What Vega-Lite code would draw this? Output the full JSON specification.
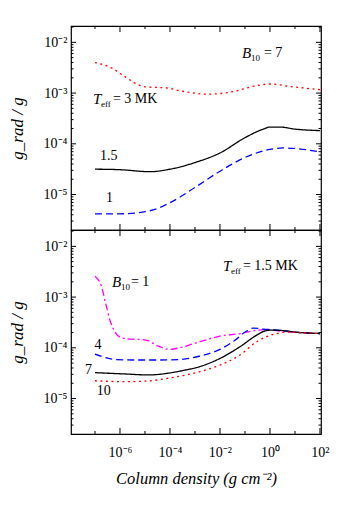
{
  "$schema": "https://vega.github.io/schema/vega-lite/v6.json",
  "padding": {"left": 7, "top": 25, "right": 10, "bottom": 5},
  "background": "white",
  "config": {
    "font": "Liberation Serif",
    "view": {"stroke": "black", "strokeWidth": 1.2},
    "axis": {"domain": false, "grid": false, "ticks": false, "labelColor": "black", "titleColor": "black", "labelOverlap": false,
      "labelFont": "Liberation Serif", "titleFont": "Liberation Serif"},
    "text": {"font": "Liberation Serif", "color": "black"},
    "tick": {"color": "black", "opacity": 1}
  },
  "spacing": 0,
  "bounds": "flush",
  "resolve": {"scale": {"color": "independent", "strokeDash": "independent"}},
  "datasets": {
    "xMajor": [
      {"x": 1e-6, "y": 2.0e-6}, {"x": 1e-4, "y": 2.0e-6}, {"x": 1e-2, "y": 2.0e-6}, {"x": 1, "y": 2.0e-6}, {"x": 100, "y": 2.0e-6},
      {"x": 1e-6, "y": 2.1e-2}, {"x": 1e-4, "y": 2.1e-2}, {"x": 1e-2, "y": 2.1e-2}, {"x": 1, "y": 2.1e-2}, {"x": 100, "y": 2.1e-2}
    ],
    "xMinor": [
      {"x": 1e-7, "y": 2.0e-6}, {"x": 1e-5, "y": 2.0e-6}, {"x": 1e-3, "y": 2.0e-6}, {"x": 0.1, "y": 2.0e-6}, {"x": 10, "y": 2.0e-6},
      {"x": 1e-7, "y": 2.1e-2}, {"x": 1e-5, "y": 2.1e-2}, {"x": 1e-3, "y": 2.1e-2}, {"x": 0.1, "y": 2.1e-2}, {"x": 10, "y": 2.1e-2}
    ],
    "yMajor": [
      {"x": 1.1e-8, "y": 1e-5}, {"x": 1.1e-8, "y": 1e-4}, {"x": 1.1e-8, "y": 1e-3}, {"x": 1.1e-8, "y": 1e-2},
      {"x": 110, "y": 1e-5}, {"x": 110, "y": 1e-4}, {"x": 110, "y": 1e-3}, {"x": 110, "y": 1e-2}
    ],
    "yMinor": [
      {"x": 1.1e-8, "y": 3e-6}, {"x": 1.1e-8, "y": 4e-6}, {"x": 1.1e-8, "y": 5e-6}, {"x": 1.1e-8, "y": 6e-6}, {"x": 1.1e-8, "y": 7e-6}, {"x": 1.1e-8, "y": 8e-6}, {"x": 1.1e-8, "y": 9e-6},
      {"x": 1.1e-8, "y": 2e-5}, {"x": 1.1e-8, "y": 3e-5}, {"x": 1.1e-8, "y": 4e-5}, {"x": 1.1e-8, "y": 5e-5}, {"x": 1.1e-8, "y": 6e-5}, {"x": 1.1e-8, "y": 7e-5}, {"x": 1.1e-8, "y": 8e-5}, {"x": 1.1e-8, "y": 9e-5},
      {"x": 1.1e-8, "y": 2e-4}, {"x": 1.1e-8, "y": 3e-4}, {"x": 1.1e-8, "y": 4e-4}, {"x": 1.1e-8, "y": 5e-4}, {"x": 1.1e-8, "y": 6e-4}, {"x": 1.1e-8, "y": 7e-4}, {"x": 1.1e-8, "y": 8e-4}, {"x": 1.1e-8, "y": 9e-4},
      {"x": 1.1e-8, "y": 2e-3}, {"x": 1.1e-8, "y": 3e-3}, {"x": 1.1e-8, "y": 4e-3}, {"x": 1.1e-8, "y": 5e-3}, {"x": 1.1e-8, "y": 6e-3}, {"x": 1.1e-8, "y": 7e-3}, {"x": 1.1e-8, "y": 8e-3}, {"x": 1.1e-8, "y": 9e-3},
      {"x": 1.1e-8, "y": 2e-2},
      {"x": 110, "y": 3e-6}, {"x": 110, "y": 4e-6}, {"x": 110, "y": 5e-6}, {"x": 110, "y": 6e-6}, {"x": 110, "y": 7e-6}, {"x": 110, "y": 8e-6}, {"x": 110, "y": 9e-6},
      {"x": 110, "y": 2e-5}, {"x": 110, "y": 3e-5}, {"x": 110, "y": 4e-5}, {"x": 110, "y": 5e-5}, {"x": 110, "y": 6e-5}, {"x": 110, "y": 7e-5}, {"x": 110, "y": 8e-5}, {"x": 110, "y": 9e-5},
      {"x": 110, "y": 2e-4}, {"x": 110, "y": 3e-4}, {"x": 110, "y": 4e-4}, {"x": 110, "y": 5e-4}, {"x": 110, "y": 6e-4}, {"x": 110, "y": 7e-4}, {"x": 110, "y": 8e-4}, {"x": 110, "y": 9e-4},
      {"x": 110, "y": 2e-3}, {"x": 110, "y": 3e-3}, {"x": 110, "y": 4e-3}, {"x": 110, "y": 5e-3}, {"x": 110, "y": 6e-3}, {"x": 110, "y": 7e-3}, {"x": 110, "y": 8e-3}, {"x": 110, "y": 9e-3},
      {"x": 110, "y": 2e-2}
    ],
    "topLines": [
      {"s": "3 MK", "x": 1e-7, "y": 4.0e-3},
      {"s": "3 MK", "x": 4.9e-7, "y": 3.09e-3},
      {"s": "3 MK", "x": 1.35e-6, "y": 2.22e-3},
      {"s": "3 MK", "x": 3.6e-6, "y": 1.62e-3},
      {"s": "3 MK", "x": 1e-5, "y": 1.33e-3},
      {"s": "3 MK", "x": 2.95e-5, "y": 1.29e-3},
      {"s": "3 MK", "x": 7.8e-5, "y": 1.26e-3},
      {"s": "3 MK", "x": 2.1e-4, "y": 1.13e-3},
      {"s": "3 MK", "x": 6.3e-4, "y": 1.03e-3},
      {"s": "3 MK", "x": 2.95e-3, "y": 9.5e-4},
      {"s": "3 MK", "x": 3.4e-2, "y": 1.07e-3},
      {"s": "3 MK", "x": 0.21, "y": 1.35e-3},
      {"s": "3 MK", "x": 1, "y": 1.51e-3},
      {"s": "3 MK", "x": 6.3, "y": 1.35e-3},
      {"s": "3 MK", "x": 100, "y": 1.17e-3},
      {"s": "1.5 MK", "x": 1e-7, "y": 3.16e-5},
      {"s": "1.5 MK", "x": 1e-6, "y": 3.09e-5},
      {"s": "1.5 MK", "x": 1.6e-5, "y": 2.82e-5},
      {"s": "1.5 MK", "x": 1e-4, "y": 3.16e-5},
      {"s": "1.5 MK", "x": 1e-3, "y": 4.27e-5},
      {"s": "1.5 MK", "x": 1e-2, "y": 6.6e-5},
      {"s": "1.5 MK", "x": 0.1, "y": 1.32e-4},
      {"s": "1.5 MK", "x": 0.54, "y": 1.95e-4},
      {"s": "1.5 MK", "x": 1, "y": 2.14e-4},
      {"s": "1.5 MK", "x": 2.5, "y": 2.14e-4},
      {"s": "1.5 MK", "x": 10, "y": 1.95e-4},
      {"s": "1.5 MK", "x": 100, "y": 1.82e-4},
      {"s": "1 MK", "x": 1e-7, "y": 4.17e-6},
      {"s": "1 MK", "x": 1e-6, "y": 4.17e-6},
      {"s": "1 MK", "x": 1.6e-5, "y": 4.79e-6},
      {"s": "1 MK", "x": 1e-4, "y": 6.9e-6},
      {"s": "1 MK", "x": 1e-3, "y": 1.38e-5},
      {"s": "1 MK", "x": 1e-2, "y": 2.88e-5},
      {"s": "1 MK", "x": 0.1, "y": 5.37e-5},
      {"s": "1 MK", "x": 1, "y": 7.76e-5},
      {"s": "1 MK", "x": 3.4, "y": 8.3e-5},
      {"s": "1 MK", "x": 10, "y": 8.1e-5},
      {"s": "1 MK", "x": 100, "y": 6.9e-5}
    ],
    "bottomLines": [
      {"s": "B=1", "x": 1e-7, "y": 2.57e-3},
      {"s": "B=1", "x": 1.86e-7, "y": 1.58e-3},
      {"s": "B=1", "x": 2.69e-7, "y": 7.4e-4},
      {"s": "B=1", "x": 3.98e-7, "y": 3.49e-4},
      {"s": "B=1", "x": 6.31e-7, "y": 2.06e-4},
      {"s": "B=1", "x": 1.17e-6, "y": 1.58e-4},
      {"s": "B=1", "x": 2.95e-6, "y": 1.48e-4},
      {"s": "B=1", "x": 7.4e-6, "y": 1.46e-4},
      {"s": "B=1", "x": 1.35e-5, "y": 1.38e-4},
      {"s": "B=1", "x": 3.39e-5, "y": 1.08e-4},
      {"s": "B=1", "x": 1e-4, "y": 9.3e-5},
      {"s": "B=1", "x": 2.8e-4, "y": 1.02e-4},
      {"s": "B=1", "x": 1.58e-3, "y": 1.32e-4},
      {"s": "B=1", "x": 1e-2, "y": 1.70e-4},
      {"s": "B=1", "x": 6.31e-2, "y": 1.91e-4},
      {"s": "B=1", "x": 0.186, "y": 2.14e-4},
      {"s": "B=1", "x": 0.74, "y": 2.29e-4},
      {"s": "B=1", "x": 2.51, "y": 2.14e-4},
      {"s": "B=1", "x": 15.8, "y": 2.0e-4},
      {"s": "B=1", "x": 100, "y": 1.91e-4},
      {"s": "B=4", "x": 1e-7, "y": 7.5e-5},
      {"s": "B=4", "x": 2.51e-7, "y": 6.46e-5},
      {"s": "B=4", "x": 6.31e-7, "y": 5.89e-5},
      {"s": "B=4", "x": 3.98e-6, "y": 5.75e-5},
      {"s": "B=4", "x": 2.51e-5, "y": 5.75e-5},
      {"s": "B=4", "x": 2.51e-4, "y": 5.89e-5},
      {"s": "B=4", "x": 1.58e-3, "y": 6.9e-5},
      {"s": "B=4", "x": 1e-2, "y": 9.3e-5},
      {"s": "B=4", "x": 3.98e-2, "y": 1.41e-4},
      {"s": "B=4", "x": 0.117, "y": 2.14e-4},
      {"s": "B=4", "x": 0.214, "y": 2.45e-4},
      {"s": "B=4", "x": 0.537, "y": 2.34e-4},
      {"s": "B=4", "x": 1.86, "y": 2.24e-4},
      {"s": "B=4", "x": 15.8, "y": 2.0e-4},
      {"s": "B=4", "x": 100, "y": 1.91e-4},
      {"s": "B=7", "x": 1e-7, "y": 3.24e-5},
      {"s": "B=7", "x": 1.58e-6, "y": 3.05e-5},
      {"s": "B=7", "x": 1.35e-5, "y": 2.92e-5},
      {"s": "B=7", "x": 8.5e-5, "y": 3.16e-5},
      {"s": "B=7", "x": 3.16e-4, "y": 3.55e-5},
      {"s": "B=7", "x": 1.58e-3, "y": 4.27e-5},
      {"s": "B=7", "x": 1e-2, "y": 6.17e-5},
      {"s": "B=7", "x": 6.31e-2, "y": 1.05e-4},
      {"s": "B=7", "x": 0.295, "y": 1.78e-4},
      {"s": "B=7", "x": 0.631, "y": 2.15e-4},
      {"s": "B=7", "x": 1.35, "y": 2.24e-4},
      {"s": "B=7", "x": 15.8, "y": 2.0e-4},
      {"s": "B=7", "x": 100, "y": 1.91e-4},
      {"s": "B=10", "x": 1e-7, "y": 2.24e-5},
      {"s": "B=10", "x": 1.58e-6, "y": 2.15e-5},
      {"s": "B=10", "x": 1.35e-5, "y": 2.22e-5},
      {"s": "B=10", "x": 8.5e-5, "y": 2.51e-5},
      {"s": "B=10", "x": 3.16e-4, "y": 2.82e-5},
      {"s": "B=10", "x": 1.58e-3, "y": 3.39e-5},
      {"s": "B=10", "x": 1e-2, "y": 4.57e-5},
      {"s": "B=10", "x": 6.31e-2, "y": 7.2e-5},
      {"s": "B=10", "x": 0.295, "y": 1.32e-4},
      {"s": "B=10", "x": 1.86, "y": 1.91e-4},
      {"s": "B=10", "x": 4.68, "y": 2.04e-4},
      {"s": "B=10", "x": 15.8, "y": 2.0e-4},
      {"s": "B=10", "x": 100, "y": 1.91e-4}
    ]
  },
  "vconcat": [
    {
      "width": 250,
      "height": 204,
      "resolve": {"axis": {"x": "independent", "y": "independent"}},
      "layer": [
        {
          "data": {"name": "topLines"},
          "mark": {"type": "line", "interpolate": "monotone", "strokeWidth": 1.3},
          "encoding": {
            "x": {"field": "x", "type": "quantitative",
              "scale": {"type": "log", "domain": [1.1e-8, 110], "nice": false},
              "axis": null},
            "y": {"field": "y", "type": "quantitative",
              "scale": {"type": "log", "domain": [2.0e-6, 2.1e-2], "nice": false},
              "axis": {"orient": "left", "title": "g_rad / g", "titleFont": "Liberation Serif", "titleFontStyle": "italic", "titleFontWeight": "normal", "titleFontSize": 17, "titlePadding": 17,
                "labelFont": "Liberation Serif", "labelFontSize": 14, "labelPadding": 4,
                "values": [1e-5, 1e-4, 1e-3, 1e-2],
                "labelExpr": "'10' + replace(replace(replace(replace(replace(replace(replace(replace(replace(replace(replace('' + round(log(datum.value)/LN10), '-', '⁻'), '0', '⁰'), '1', '¹'), '2', '²'), '3', '³'), '4', '⁴'), '5', '⁵'), '6', '⁶'), '7', '⁷'), '8', '⁸'), '9', '⁹')"}},
            "color": {"field": "s", "type": "nominal", "legend": null,
              "scale": {"domain": ["3 MK", "1.5 MK", "1 MK"], "range": ["#ff0000", "#000000", "#0000ff"]}},
            "strokeDash": {"field": "s", "type": "nominal", "legend": null,
              "scale": {"domain": ["3 MK", "1.5 MK", "1 MK"], "range": [[2, 3.5], [1, 0], [7, 4]]}}
          }
        },
        {
          "data": {"name": "xMajor"},
          "mark": {"type": "tick", "orient": "vertical", "size": 12, "thickness": 1, "clip": true},
          "encoding": {
            "x": {"field": "x", "type": "quantitative", "axis": null},
            "y": {"field": "y", "type": "quantitative", "axis": null}
          }
        },
        {
          "data": {"name": "xMinor"},
          "mark": {"type": "tick", "orient": "vertical", "size": 6, "thickness": 1, "clip": true},
          "encoding": {
            "x": {"field": "x", "type": "quantitative", "axis": null},
            "y": {"field": "y", "type": "quantitative", "axis": null}
          }
        },
        {
          "data": {"name": "yMajor"},
          "mark": {"type": "tick", "orient": "horizontal", "size": 10, "thickness": 1, "clip": true},
          "encoding": {
            "x": {"field": "x", "type": "quantitative", "axis": null},
            "y": {"field": "y", "type": "quantitative", "axis": null}
          }
        },
        {
          "data": {"name": "yMinor"},
          "mark": {"type": "tick", "orient": "horizontal", "size": 5, "thickness": 1, "clip": true},
          "encoding": {
            "x": {"field": "x", "type": "quantitative", "axis": null},
            "y": {"field": "y", "type": "quantitative", "axis": null}
          }
        },
        {
          "data": {"values": [
            {"x": 1.58e-7, "y": 5.82e-5, "t": "1.5"},
            {"x": 2.75e-7, "y": 8.7e-6, "t": "1"},
            {"x": 0.575, "y": 6.08e-3, "t": "= 7"},
            {"x": 5.25e-7, "y": 7.62e-4, "t": "= 3 MK"}
          ]},
          "mark": {"type": "text", "align": "left", "baseline": "middle", "fontSize": 14},
          "encoding": {
            "x": {"field": "x", "type": "quantitative", "axis": null},
            "y": {"field": "y", "type": "quantitative", "axis": null},
            "text": {"field": "t"}
          }
        },
        {
          "data": {"values": [
            {"x": 0.0759, "y": 6.08e-3, "t": "B"},
            {"x": 8.3e-8, "y": 7.62e-4, "t": "T"}
          ]},
          "mark": {"type": "text", "align": "left", "baseline": "middle", "fontSize": 15, "fontStyle": "italic"},
          "encoding": {
            "x": {"field": "x", "type": "quantitative", "axis": null},
            "y": {"field": "y", "type": "quantitative", "axis": null},
            "text": {"field": "t"}
          }
        },
        {
          "data": {"values": [
            {"x": 0.174, "y": 6.08e-3, "t": "10"},
            {"x": 1.74e-7, "y": 7.62e-4, "t": "eff"}
          ]},
          "mark": {"type": "text", "align": "left", "baseline": "middle", "fontSize": 9, "dy": 5},
          "encoding": {
            "x": {"field": "x", "type": "quantitative", "axis": null},
            "y": {"field": "y", "type": "quantitative", "axis": null},
            "text": {"field": "t"}
          }
        }
      ]
    },
    {
      "width": 250,
      "height": 204,
      "resolve": {"axis": {"x": "independent", "y": "independent"}},
      "layer": [
        {
          "data": {"name": "bottomLines"},
          "mark": {"type": "line", "interpolate": "monotone", "strokeWidth": 1.3},
          "encoding": {
            "x": {"field": "x", "type": "quantitative",
              "scale": {"type": "log", "domain": [1.1e-8, 110], "nice": false},
              "axis": {"orient": "bottom", "title": "Column density  (g cm⁻²)", "titleFont": "Liberation Serif", "titleFontStyle": "italic", "titleFontWeight": "normal", "titleFontSize": 16.5, "titlePadding": 11,
                "labelFont": "Liberation Serif", "labelFontSize": 14, "labelPadding": 11,
                "values": [1e-6, 1e-4, 1e-2, 1, 100],
                "labelExpr": "'10' + replace(replace(replace(replace(replace(replace(replace(replace(replace(replace(replace('' + round(log(datum.value)/LN10), '-', '⁻'), '0', '⁰'), '1', '¹'), '2', '²'), '3', '³'), '4', '⁴'), '5', '⁵'), '6', '⁶'), '7', '⁷'), '8', '⁸'), '9', '⁹')"}},
            "y": {"field": "y", "type": "quantitative",
              "scale": {"type": "log", "domain": [2.0e-6, 2.1e-2], "nice": false},
              "axis": {"orient": "left", "title": "g_rad / g", "titleFont": "Liberation Serif", "titleFontStyle": "italic", "titleFontWeight": "normal", "titleFontSize": 17, "titlePadding": 17,
                "labelFont": "Liberation Serif", "labelFontSize": 14, "labelPadding": 4,
                "values": [1e-5, 1e-4, 1e-3, 1e-2],
                "labelExpr": "'10' + replace(replace(replace(replace(replace(replace(replace(replace(replace(replace(replace('' + round(log(datum.value)/LN10), '-', '⁻'), '0', '⁰'), '1', '¹'), '2', '²'), '3', '³'), '4', '⁴'), '5', '⁵'), '6', '⁶'), '7', '⁷'), '8', '⁸'), '9', '⁹')"}},
            "color": {"field": "s", "type": "nominal", "legend": null,
              "scale": {"domain": ["B=1", "B=4", "B=7", "B=10"], "range": ["#ff00ff", "#0000ff", "#000000", "#ff0000"]}},
            "strokeDash": {"field": "s", "type": "nominal", "legend": null,
              "scale": {"domain": ["B=1", "B=4", "B=7", "B=10"], "range": [[7, 3, 2, 3], [7, 4], [1, 0], [2, 3.5]]}}
          }
        },
        {
          "data": {"name": "xMajor"},
          "mark": {"type": "tick", "orient": "vertical", "size": 12, "thickness": 1, "clip": true},
          "encoding": {
            "x": {"field": "x", "type": "quantitative", "axis": null},
            "y": {"field": "y", "type": "quantitative", "axis": null}
          }
        },
        {
          "data": {"name": "xMinor"},
          "mark": {"type": "tick", "orient": "vertical", "size": 6, "thickness": 1, "clip": true},
          "encoding": {
            "x": {"field": "x", "type": "quantitative", "axis": null},
            "y": {"field": "y", "type": "quantitative", "axis": null}
          }
        },
        {
          "data": {"name": "yMajor"},
          "mark": {"type": "tick", "orient": "horizontal", "size": 10, "thickness": 1, "clip": true},
          "encoding": {
            "x": {"field": "x", "type": "quantitative", "axis": null},
            "y": {"field": "y", "type": "quantitative", "axis": null}
          }
        },
        {
          "data": {"name": "yMinor"},
          "mark": {"type": "tick", "orient": "horizontal", "size": 5, "thickness": 1, "clip": true},
          "encoding": {
            "x": {"field": "x", "type": "quantitative", "axis": null},
            "y": {"field": "y", "type": "quantitative", "axis": null}
          }
        },
        {
          "data": {"values": [
            {"x": 9.5e-8, "y": 1.13e-4, "t": "4"},
            {"x": 3.98e-8, "y": 3.66e-5, "t": "7"},
            {"x": 1.17e-7, "y": 1.44e-5, "t": "10"},
            {"x": 0.083, "y": 4.19e-3, "t": "= 1.5 MK"},
            {"x": 2.75e-6, "y": 1.94e-3, "t": "= 1"}
          ]},
          "mark": {"type": "text", "align": "left", "baseline": "middle", "fontSize": 14},
          "encoding": {
            "x": {"field": "x", "type": "quantitative", "axis": null},
            "y": {"field": "y", "type": "quantitative", "axis": null},
            "text": {"field": "t"}
          }
        },
        {
          "data": {"values": [
            {"x": 0.0132, "y": 4.19e-3, "t": "T"},
            {"x": 4.79e-7, "y": 1.94e-3, "t": "B"}
          ]},
          "mark": {"type": "text", "align": "left", "baseline": "middle", "fontSize": 15, "fontStyle": "italic"},
          "encoding": {
            "x": {"field": "x", "type": "quantitative", "axis": null},
            "y": {"field": "y", "type": "quantitative", "axis": null},
            "text": {"field": "t"}
          }
        },
        {
          "data": {"values": [
            {"x": 0.0275, "y": 4.19e-3, "t": "eff"},
            {"x": 1.1e-6, "y": 1.94e-3, "t": "10"}
          ]},
          "mark": {"type": "text", "align": "left", "baseline": "middle", "fontSize": 9, "dy": 5},
          "encoding": {
            "x": {"field": "x", "type": "quantitative", "axis": null},
            "y": {"field": "y", "type": "quantitative", "axis": null},
            "text": {"field": "t"}
          }
        }
      ]
    }
  ]
}
